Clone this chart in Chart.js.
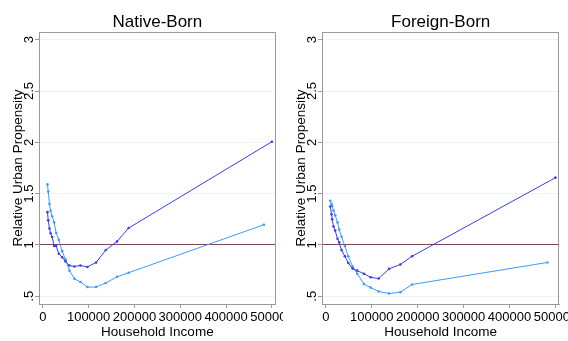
<!DOCTYPE html>
<html>
<head>
<meta charset="utf-8">
<script src="https://cdn.jsdelivr.net/npm/chart.js@4.4.1/dist/chart.umd.min.js"></script>
<style>
  html, body { margin: 0; padding: 0; background: #fff; }
  #wrap { position: relative; width: 568px; height: 341px; overflow: hidden; }
  canvas { position: absolute; top: 0; }
  #left  { left: 0; }
  #right { left: 283px; }
</style>
</head>
<body>
<div id="wrap">
  <canvas id="left" width="283" height="341" style="width:283px;height:341px"></canvas>
  <canvas id="right" width="285" height="341" style="width:285px;height:341px"></canvas>
</div>
<script>
// income bins (x) for each panel
const nativeIncome  = [10200, 11900, 14600, 17000, 20400, 24800, 29200, 35000, 42200, 49500,
                       58200, 69100, 82200, 97400, 116300, 137300, 162100, 187400];
const foreignIncome = [9600, 12400, 13900, 16800, 20400, 25500, 29200, 34300, 41500, 48900,
                       58300, 68500, 83000, 97600, 115000, 137600, 162400, 187800];
const topIncomeDark  = 500000;   // last (open-ended) bin
const topIncomeLight = 482500;

// relative urban propensity
const nativeDark   = [1.32, 1.24, 1.16, 1.115, 1.078, 0.99, 0.99, 0.915, 0.88, 0.84,
                      0.80, 0.79, 0.80, 0.786, 0.83, 0.95, 1.035, 1.165, 2.006];
const nativeLight  = [1.59, 1.52, 1.40, 1.333, 1.28, 1.22, 1.116, 1.05, 0.94, 0.86,
                      0.75, 0.67, 0.64, 0.59, 0.59, 0.63, 0.69, 0.73, 1.197];
const foreignDark  = [1.375, 1.30, 1.25, 1.18, 1.14, 1.06, 1.025, 0.95, 0.89, 0.825,
                      0.77, 0.75, 0.72, 0.685, 0.673, 0.767, 0.81, 0.89, 1.656];
const foreignLight = [1.43, 1.40, 1.38, 1.335, 1.29, 1.22, 1.15, 1.08, 0.99, 0.89,
                      0.79, 0.72, 0.62, 0.585, 0.547, 0.527, 0.54, 0.615, 0.83];

// ticks
const xTicks = [0, 100000, 200000, 300000, 400000, 500000];
const yTicks = [0.5, 1, 1.5, 2, 2.5, 3];
const yTickLabels = [".5", "1", "1.5", "2", "2.5", "3"];

const xTitle = "Household Income";
const yTitle = "Relative Urban Propensity";

const FONT = '"Liberation Sans", Arial, sans-serif';
const DARK  = "#3b3bf2";
const LIGHT = "#3a9cff";
const AXIS  = "#9a9a9a";

function toPoints(xs, lastX, ys) {
  return ys.map((v, i) => ({ x: i < xs.length ? xs[i] : lastX, y: v }));
}

// titles, tick labels and plot box drawn on top of the library's scales
const panelText = {
  id: "panelText",
  afterDraw(chart, args, opts) {
    const { ctx, chartArea: a, scales: { x, y } } = chart;
    ctx.save();

    // box round the plot region
    ctx.strokeStyle = AXIS;
    ctx.lineWidth = 1;
    ctx.strokeRect(Math.round(a.left) + 0.5, Math.round(a.top) + 0.5,
                   Math.round(a.right - a.left) - 1, Math.round(a.bottom - a.top));

    ctx.fillStyle = "#000";
    const cx = (a.left + a.right) / 2;

    ctx.font = "17px " + FONT;
    ctx.textAlign = "center";
    ctx.textBaseline = "alphabetic";
    ctx.fillText(opts.title, cx, 27);

    ctx.font = "13px " + FONT;
    xTicks.forEach(v => ctx.fillText(v.toString(), x.getPixelForValue(v), 321));

    ctx.font = "13.5px " + FONT;
    ctx.fillText(xTitle, cx, 336);

    ctx.font = "13px " + FONT;
    yTicks.forEach((v, i) => {
      ctx.save();
      ctx.translate(33, y.getPixelForValue(v));
      ctx.rotate(-Math.PI / 2);
      ctx.fillText(yTickLabels[i], 0, 0);
      ctx.restore();
    });

    ctx.font = "13.5px " + FONT;
    ctx.translate(21.5, (a.top + a.bottom) / 2);
    ctx.rotate(-Math.PI / 2);
    ctx.fillText(yTitle, 0, 0);

    ctx.restore();
  }
};

function makePanel(id, title, xs, dark, light, padRight) {
  return new Chart(document.getElementById(id), {
    type: "line",
    data: {
      datasets: [
        {
          data: toPoints(xs, topIncomeDark, dark),
          borderColor: DARK,
          backgroundColor: DARK,
          borderWidth: 1,
          pointRadius: 1.3,
          pointBorderWidth: 0,
          tension: 0,
        },
        {
          data: toPoints(xs, topIncomeLight, light),
          borderColor: LIGHT,
          backgroundColor: LIGHT,
          borderWidth: 1,
          pointRadius: 1.3,
          pointBorderWidth: 0,
          tension: 0,
        }
      ]
    },
    options: {
      responsive: false,
      animation: false,
      layout: { padding: { left: 0, top: 32, right: padRight, bottom: 0 } },
      plugins: {
        legend: { display: false },
        tooltip: { enabled: false },
        panelText: { title }
      },
      scales: {
        x: {
          type: "linear",
          min: -8300,
          max: 508300,
          afterBuildTicks: s => { s.ticks = xTicks.map(v => ({ value: v })); },
          afterFit: s => { s.height = 37; },
          ticks: { display: false },
          grid: { drawOnChartArea: false, drawTicks: true, tickLength: 4, tickColor: AXIS },
          border: { color: AXIS }
        },
        y: {
          type: "linear",
          min: 0.425,
          max: 3.075,
          afterBuildTicks: s => { s.ticks = yTicks.map(v => ({ value: v })); },
          afterFit: s => { s.width = 39; },
          ticks: { display: false },
          grid: {
            color: c => (c.tick && c.tick.value === 1) ? "#7a4452" : "#edf2f2",
            tickLength: 4,
            tickColor: AXIS
          },
          border: { color: AXIS }
        }
      }
    },
    plugins: [panelText]
  });
}

makePanel("left", "Native-Born", nativeIncome, nativeDark, nativeLight, 7.3);
makePanel("right", "Foreign-Born", foreignIncome, foreignDark, foreignLight, 8.7);
</script>
</body>
</html>
